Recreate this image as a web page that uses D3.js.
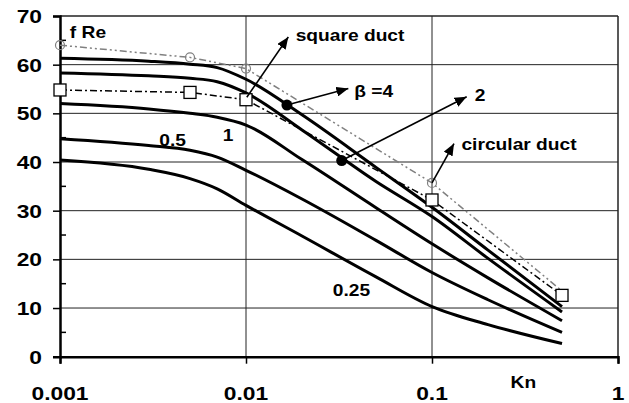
<!DOCTYPE html>
<html><head><meta charset="utf-8">
<script src="https://cdn.jsdelivr.net/npm/d3@7"></script>
<style>body{margin:0;background:#fff}svg{display:block}text{font-family:"Liberation Sans",Arial,sans-serif;font-weight:bold;fill:#000}</style>
</head><body><svg id="c" width="629" height="403"></svg>
<script>
// ---- data ----
const knSolid = [0.001, 0.003, 0.005, 0.007, 0.01, 0.02, 0.05, 0.1, 0.2, 0.5];
const beta4   = [61.3, 60.7, 60.1, 59.4, 57.0, 49.7, 38.9, 30.7, 21.9, 10.3];
const beta2   = [58.3, 57.7, 57.2, 56.5, 54.2, 46.6, 36.0, 28.8, 20.2, 9.2];
const beta1   = [52.0, 50.9, 50.0, 49.2, 47.6, 40.5, 30.6, 23.2, 16.2, 7.4];
const beta05  = [44.8, 43.4, 42.4, 41.0, 38.3, 32.4, 23.9, 17.3, 11.7, 5.0];
const beta025 = [40.4, 38.5, 36.6, 34.5, 31.1, 24.8, 16.4, 10.3, 6.6, 2.7];
const knCirc = [0.001, 0.005, 0.01, 0.1, 0.5];
const circular = [64.0, 61.5, 59.2, 35.7, 13.5];
const circMarkKn = [0.001, 0.005, 0.01, 0.1];
const circMarkVal = [64.0, 61.5, 59.2, 35.7];
const knSq = [0.001, 0.005, 0.01, 0.1, 0.5];
const square = [54.8, 54.3, 52.8, 32.2, 12.6];
const xTicks = [0.001, 0.01, 0.1, 1];
const xTickLabels = ["0.001", "0.01", "0.1", "1"];
const yTicks = [0, 10, 20, 30, 40, 50, 60, 70];
const yMinor = [5, 15, 25, 35, 45, 55, 65];
// annotation points (Kn, fRe)
const dots = [[0.0166, 51.7], [0.0327, 40.3]];
const arrows = [
  {from:[0.0101, 53.3], to:[0.01688, 65.7]},   // square duct
  {from:[0.0166, 51.7], to:[0.0355, 55.1]},    // beta=4
  {from:[0.0327, 40.3], to:[0.1536, 53.4]},    // 2
  {from:[0.1, 35.7], to:[0.1313, 43.8]}        // circular duct
];
const labels = [
  {t:"f Re", kn:0.00113, v:65.4, anchor:"start"},
  {t:"square duct", kn:0.0185, v:64.8, anchor:"start"},
  {t:"β =4", kn:0.0382, v:53.3, anchor:"start"},
  {t:"2", kn:0.17, v:52.5, anchor:"start"},
  {t:"circular duct", kn:0.144, v:42.4, anchor:"start"},
  {t:"1", kn:0.0080, v:44.4, anchor:"middle"},
  {t:"0.5", kn:0.00403, v:43.2, anchor:"middle"},
  {t:"0.25", kn:0.0369, v:12.4, anchor:"middle"},
  {t:"Kn", kn:0.31, v:-6.4, anchor:"middle"}
];

const svg = d3.select("#c");
const x = d3.scaleLog().domain([0.001, 1]).range([60, 618]);
const y = d3.scaleLinear().domain([0, 70]).range([356.7, 16]);
const SX = 1.2;
function txt(g, s, px, py, size, anchor){
  return g.append("text").attr("transform",`translate(${px},${py}) scale(${SX},1)`)
    .attr("text-anchor",anchor).attr("font-size",size).text(s);
}

// grid
const grid = svg.append("g");
yTicks.filter(d=>d>0).forEach(d=>{
  grid.append("line").attr("x1",x(0.001)).attr("x2",x(1)).attr("y1",y(d)).attr("y2",y(d))
    .attr("stroke","#222").attr("stroke-width", d===70?1.5:1);
});
xTicks.filter(d=>d>0.001).forEach(d=>{
  grid.append("line").attr("x1",x(d)).attr("x2",x(d)).attr("y1",y(0)).attr("y2",y(70))
    .attr("stroke","#222").attr("stroke-width", d===1?1.5:1);
});

// axes
const yAxis = svg.append("g").attr("transform",`translate(${x(0.001)},0)`)
  .call(d3.axisLeft(y).tickValues(yTicks).tickSize(7).tickFormat(""));
yAxis.select(".domain").attr("stroke-width",2.5);
yAxis.selectAll(".tick line").attr("stroke-width",1.5);
yMinor.forEach(d=>{
  svg.append("line").attr("x1",x(0.001)).attr("x2",x(0.001)+6).attr("y1",y(d)).attr("y2",y(d))
   .attr("stroke","#000").attr("stroke-width",1.5);
});
const xAxis = svg.append("g").attr("transform",`translate(0,${y(0)})`)
  .call(d3.axisBottom(x).tickValues(xTicks).tickSize(7).tickFormat(""));
xAxis.select(".domain").attr("stroke-width",2.5);
xAxis.selectAll(".tick line").attr("stroke-width",1.5);

yTicks.forEach(d=>txt(svg, String(d), 42, y(d)+7, 19, "end"));
xTicks.forEach((d,i)=>txt(svg, xTickLabels[i], x(d), 400, 19, "middle"));

// curves
const lineS = d3.line().x(d=>x(d[0])).y(d=>y(d[1])).curve(d3.curveMonotoneX);
const lineL = d3.line().x(d=>x(d[0])).y(d=>y(d[1]));
const zip = (a,b)=>a.map((v,i)=>[v,b[i]]);

svg.append("path").attr("d",lineL(zip(knCirc,circular))).attr("fill","none")
  .attr("stroke","#808080").attr("stroke-width",1.5).attr("stroke-dasharray","7,3,2,3,2,3");
svg.append("path").attr("d",lineL(zip(knSq,square))).attr("fill","none")
  .attr("stroke","#000").attr("stroke-width",1.5).attr("stroke-dasharray","7,3,2,3");

[beta4,beta2,beta1,beta05,beta025].forEach(s=>{
  svg.append("path").attr("d",lineS(zip(knSolid,s))).attr("fill","none")
    .attr("stroke","#000").attr("stroke-width",3);
});

// markers
zip(circMarkKn,circMarkVal).forEach(d=>{
  svg.append("circle").attr("cx",x(d[0])).attr("cy",y(d[1])).attr("r",4.5)
    .attr("fill","none").attr("stroke","#808080").attr("stroke-width",1.2);
});
zip(knSq,square).forEach(d=>{
  svg.append("rect").attr("x",x(d[0])-6).attr("y",y(d[1])-6).attr("width",12).attr("height",12)
    .attr("fill","#fff").attr("stroke","#000").attr("stroke-width",1.3);
});

// arrows
svg.append("defs").append("marker").attr("id","ah").attr("viewBox","0 0 12 10")
  .attr("refX",12).attr("refY",5).attr("markerWidth",12).attr("markerHeight",10)
  .attr("markerUnits","userSpaceOnUse").attr("orient","auto")
  .append("path").attr("d","M0,0L12,5L0,10Z").attr("fill","#000");
arrows.forEach(a=>{
  svg.append("line").attr("x1",x(a.from[0])).attr("y1",y(a.from[1]))
    .attr("x2",x(a.to[0])).attr("y2",y(a.to[1])).attr("stroke","#000").attr("stroke-width",1.6)
    .attr("marker-end","url(#ah)");
});
dots.forEach(d=>{
  svg.append("circle").attr("cx",x(d[0])).attr("cy",y(d[1])).attr("r",5.5).attr("fill","#000");
});

labels.forEach(l=>txt(svg, l.t, x(l.kn), y(l.v), 16, l.anchor));
</script></body></html>
